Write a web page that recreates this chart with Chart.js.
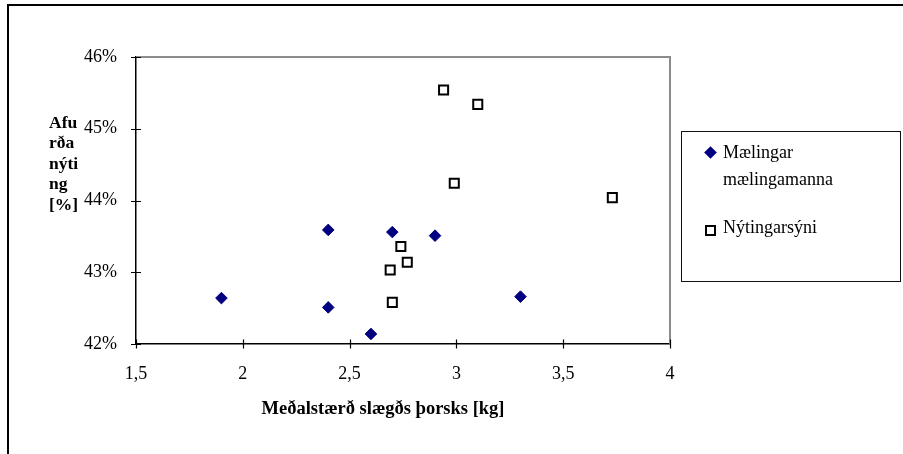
<!DOCTYPE html>
<html lang="is">
<head>
<meta charset="UTF-8">
<title>Afurðanýting</title>
<script src="https://cdn.jsdelivr.net/npm/chart.js"></script>
<style>
  html, body { margin: 0; padding: 0; background: #fff; }
  #wrap { position: relative; width: 903px; height: 454px; overflow: hidden; }
  #frame { position: absolute; left: 7px; top: 4px; right: -10px; bottom: -10px;
           border-top: 2px solid #000; border-left: 2px solid #000; }
  #chart { position: absolute; left: 0; top: 0; }
  #legend { position: absolute; left: 681px; top: 131px; width: 218px; height: 149px;
            border: 1.5px solid #111; font-family: "Liberation Serif", serif;
            font-size: 18px; line-height: 27px; color: #000; }
  .lg-text { position: absolute; left: 41px; width: 160px; }
  .lg-mark { position: absolute; box-sizing: border-box; }
  .diamond { width: 9px; height: 9px; background: #000080; transform: rotate(45deg); }
  .square { width: 11px; height: 11px; background: #fff; border: 2px solid #000; }
</style>
</head>
<body>
<div id="wrap">
  <div id="frame"></div>
  <canvas id="chart" width="903" height="454"></canvas>
  <div id="legend"></div>
</div>
<script>
// gögn lesin af myndinni
const seriesNames = ['Mælingar mælingamanna', 'Nýtingarsýni'];
const maelX = [1.90, 2.40, 2.40, 2.60, 2.70, 2.90, 3.30];
const maelY = [42.64, 43.59, 42.51, 42.14, 43.56, 43.51, 42.66];
const nytX = [2.94, 3.10, 2.99, 3.73, 2.74, 2.77, 2.69, 2.70];
const nytY = [45.54, 45.34, 44.24, 44.04, 43.36, 43.14, 43.03, 42.58];
const xTicks = [1.5, 2, 2.5, 3, 3.5, 4];
const yTicks = [42, 43, 44, 45, 46];
const xTitle = 'Meðalstærð slægðs þorsks [kg]';
const yTitle = ['Afu', 'rða', 'nýti', 'ng', '[%]'];

const serif = '"Liberation Serif", serif';

// ramminn, ásamerki sem ganga í gegnum ásinn og ásaheiti
const decor = {
  id: 'decor',
  afterDraw(chart) {
    const { ctx, chartArea: a, scales } = chart;
    ctx.save();
    ctx.strokeStyle = '#8c8c8c';
    ctx.lineWidth = 2;
    ctx.beginPath();
    ctx.moveTo(a.left, a.top);
    ctx.lineTo(a.right, a.top);
    ctx.lineTo(a.right, a.bottom);
    ctx.stroke();

    ctx.strokeStyle = '#000';
    ctx.lineWidth = 1.2;
    ctx.beginPath();
    scales.y.ticks.forEach(t => {
      const py = Math.round(scales.y.getPixelForValue(t.value)) + 0.5;
      ctx.moveTo(a.left - 5, py);
      ctx.lineTo(a.left + 5, py);
    });
    scales.x.ticks.forEach(t => {
      const px = Math.round(scales.x.getPixelForValue(t.value)) + 0.5;
      ctx.moveTo(px, a.bottom - 4.5);
      ctx.lineTo(px, a.bottom + 4.5);
    });
    ctx.stroke();

    ctx.fillStyle = '#000';
    ctx.font = 'bold 17.5px ' + serif;
    ctx.textAlign = 'left';
    ctx.textBaseline = 'middle';
    yTitle.forEach((s, i) => ctx.fillText(s, a.left - 87, a.top + 66 + i * 20.5));

    ctx.font = 'bold 18.5px ' + serif;
    ctx.textAlign = 'center';
    ctx.fillText(xTitle, (a.left + a.right) / 2 - 20, a.bottom + 65);
    ctx.restore();
  }
};

const tickFont = { family: serif, size: 18 };

new Chart(document.getElementById('chart'), {
  type: 'scatter',
  data: {
    datasets: [{
      label: seriesNames[0],
      data: maelX.map((x, i) => ({ x: x, y: maelY[i] })),
      pointStyle: 'rectRot',
      pointRadius: 5.8,
      backgroundColor: '#000080',
      borderColor: '#000080',
      borderWidth: 1
    }, {
      label: seriesNames[1],
      data: nytX.map((x, i) => ({ x: x, y: nytY[i] })),
      pointStyle: 'rect',
      pointRadius: 6.4,
      backgroundColor: '#fff',
      borderColor: '#000',
      borderWidth: 2
    }]
  },
  options: {
    responsive: false,
    animation: false,
    devicePixelRatio: 1,
    layout: { padding: { top: 57, right: 233, bottom: 0, left: 0 } },
    plugins: { legend: { display: false }, tooltip: { enabled: false } },
    scales: {
      x: {
        type: 'linear',
        min: 1.5,
        max: 4,
        afterBuildTicks: s => { s.ticks = xTicks.map(v => ({ value: v })); },
        afterFit: s => { s.height = 110; },
        grid: { display: false, drawTicks: false },
        border: { display: true, color: '#000', width: 1.5 },
        ticks: {
          padding: 19, color: '#000', font: tickFont, maxRotation: 0, autoSkip: false,
          callback: v => String(v).replace('.', ',')
        }
      },
      y: {
        min: 42,
        max: 46,
        afterBuildTicks: s => { s.ticks = yTicks.map(v => ({ value: v })); },
        afterFit: s => { s.width = 136; },
        grid: { display: false, drawTicks: false },
        border: { display: true, color: '#000', width: 1.5 },
        ticks: { padding: 19, color: '#000', font: tickFont, callback: v => v + '%' }
      }
    }
  },
  plugins: [decor]
});

// skýringar
const legend = document.getElementById('legend');
legend.innerHTML =
  '<div class="lg-mark diamond" style="left:24px;top:16px"></div>' +
  '<div class="lg-text" style="top:7px;width:150px">' + seriesNames[0] + '</div>' +
  '<div class="lg-mark square" style="left:23px;top:93px"></div>' +
  '<div class="lg-text" style="top:82px">' + seriesNames[1] + '</div>';
</script>
</body>
</html>
